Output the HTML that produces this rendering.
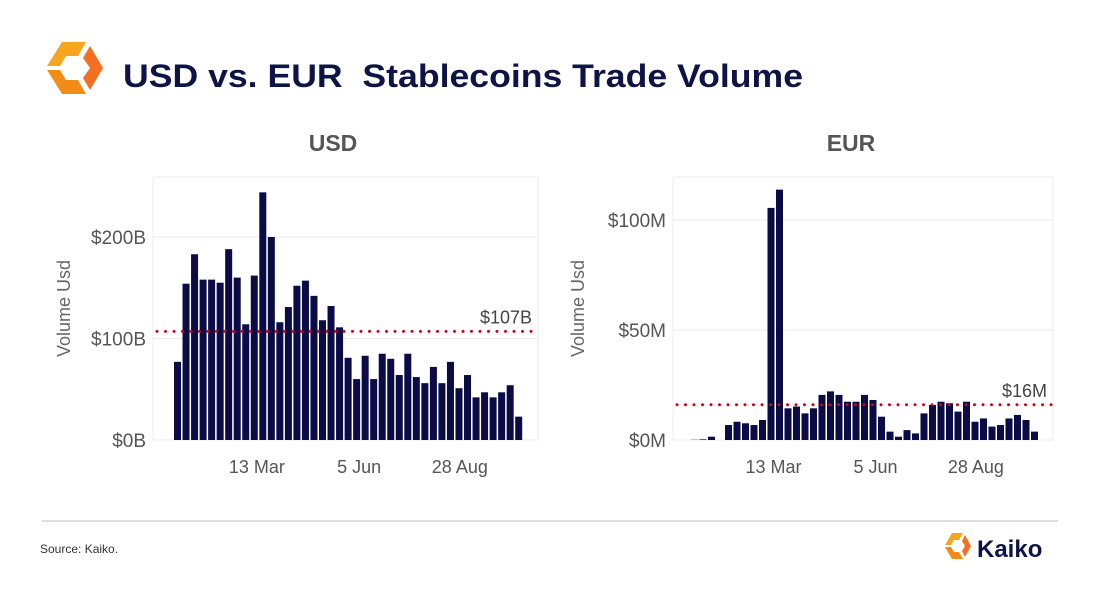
<!DOCTYPE html>
<html><head><meta charset="utf-8"><style>
body{margin:0;width:1100px;height:592px;background:#fff;font-family:"Liberation Sans",sans-serif;overflow:hidden}
</style></head><body>
<svg width="1100" height="592" xmlns="http://www.w3.org/2000/svg">
<g>
<polygon points="62,42 86,42 78,56 66,56 60,66 47,66" fill="#f7a51c"/>
<polygon points="47,70 60,70 66,80 78,80 86,94 62,94" fill="#f28b18"/>
<polygon points="90,46 103,68 90,90 83,78 90,68 83,58" fill="#f36f21"/>
</g>
<text x="123" y="87" font-size="32" font-weight="bold" fill="#0f1447" textLength="680" lengthAdjust="spacingAndGlyphs">USD vs. EUR&#160; Stablecoins Trade Volume</text>
<text x="333" y="151" font-size="23" font-weight="bold" fill="#555" text-anchor="middle">USD</text>
<text x="851" y="151" font-size="23" font-weight="bold" fill="#555" text-anchor="middle">EUR</text>
<g id="usd"></g>
<g id="eur"></g>
<line x1="42" y1="521" x2="1058" y2="521" stroke="#bbb"/>
<text x="40" y="553" font-size="12" fill="#333">Source: Kaiko.</text>
<g>
<polygon points="952,533 963,533 959,540 954,540 951,545 945,545" fill="#f7a51c"/>
<polygon points="945,547 951,547 954,552 959,552 963,559 952,559" fill="#f28b18"/>
<polygon points="965,535 971,546 965,557 962,551 965,546 962,541" fill="#f36f21"/>
<text x="977" y="557" font-size="24" font-weight="bold" fill="#0f1447">Kaiko</text>
</g>
</svg>
<script>
const usdValues=[77,154,183,158,158,155,188,160,114,162,244,200,116,131,152,157,142,118,132,111,81,60,83,60,85,80,64,85,62,56,72,56,77,51,64,42,47,42,47,54,23];
const usdTicks=[0,100,200];
const usdTickLabels=["$0B","$100B","$200B"];
const usdAvg=107, usdAvgLabel="$107B";
const eurValues=[0.1,0.3,1.5,0,6.8,8.3,7.6,6.8,9.1,105.5,113.8,14.4,15.2,12.1,14.4,20.5,22.1,20.5,17.4,17.4,20.5,18.2,10.6,3.8,1.5,4.5,3,12.1,15.9,17.4,16.7,12.9,17.4,8.3,9.8,6.1,6.8,9.8,11.4,9.1,3.8];
const eurTicks=[0,50,100];
const eurTickLabels=["$0M","$50M","$100M"];
const eurAvg=16, eurAvgLabel="$16M";
const xTickIdx=[9.3,21.3,33.1];
const xTickLabels=["13 Mar","5 Jun","28 Aug"];
const NS="http://www.w3.org/2000/svg";
function mk(p,t,a){const e=document.createElementNS(NS,t);for(const k in a)e.setAttribute(k,a[k]);p.appendChild(e);return e;}
function draw(g,vals,ticks,labels,avg,avgLabel,o){
  const y=v=>o.base-v*o.scale, x=i=>o.x0+o.step*i;
  let fr=mk(g,'rect',{x:o.left,y:177,width:o.right-o.left,height:o.base-177,fill:'none',stroke:'#eee'});
  
  
  ticks.forEach((t,i)=>{
    const l=mk(g,'line',{x1:o.left,x2:o.right,y1:y(t),y2:y(t),stroke:'#eaeaea'});
    
    
    const tx=mk(g,'text',{x:o.left-7,y:y(t)+7,'font-size':19,fill:'#555','text-anchor':'end'});
    tx.textContent=labels[i];
    
    
  });
  vals.forEach((v,i)=>{
    const r=mk(g,'rect',{x:x(i),y:y(v),width:7,height:v*o.scale,fill:'#0b0b45'});
    
    
  });
  xTickIdx.forEach((ti,i)=>{
    const tx=mk(g,'text',{x:x(ti)+3.5,y:473,'font-size':18,fill:'#555','text-anchor':'middle'});
    tx.textContent=xTickLabels[i];
    
    
  });
  const al=mk(g,'line',{x1:o.left+4,x2:o.right,y1:y(avg),y2:y(avg),stroke:'#d0021b','stroke-width':3,'stroke-dasharray':'0 8.5','stroke-linecap':'round'});
  
  
  const at=mk(g,'text',{x:o.right-6,y:y(avg)-8,'font-size':18,fill:'#444','text-anchor':'end'});
  at.textContent=avgLabel;
  
  
  const yt=mk(g,'text',{x:0,y:0,'font-size':18,fill:'#666','text-anchor':'middle',transform:`translate(${o.ytx},${(177+o.base)/2}) rotate(-90)`});
  yt.textContent='Volume Usd';
  
  
}
draw(document.getElementById('usd'),usdValues,usdTicks,usdTickLabels,usdAvg,usdAvgLabel,{base:440,scale:1.015,x0:174,step:8.53,left:153,right:538,ytx:70});
draw(document.getElementById('eur'),eurValues,eurTicks,eurTickLabels,eurAvg,eurAvgLabel,{base:440,scale:2.2,x0:691,step:8.5,left:673,right:1053,ytx:584});
</script>
</body></html>
